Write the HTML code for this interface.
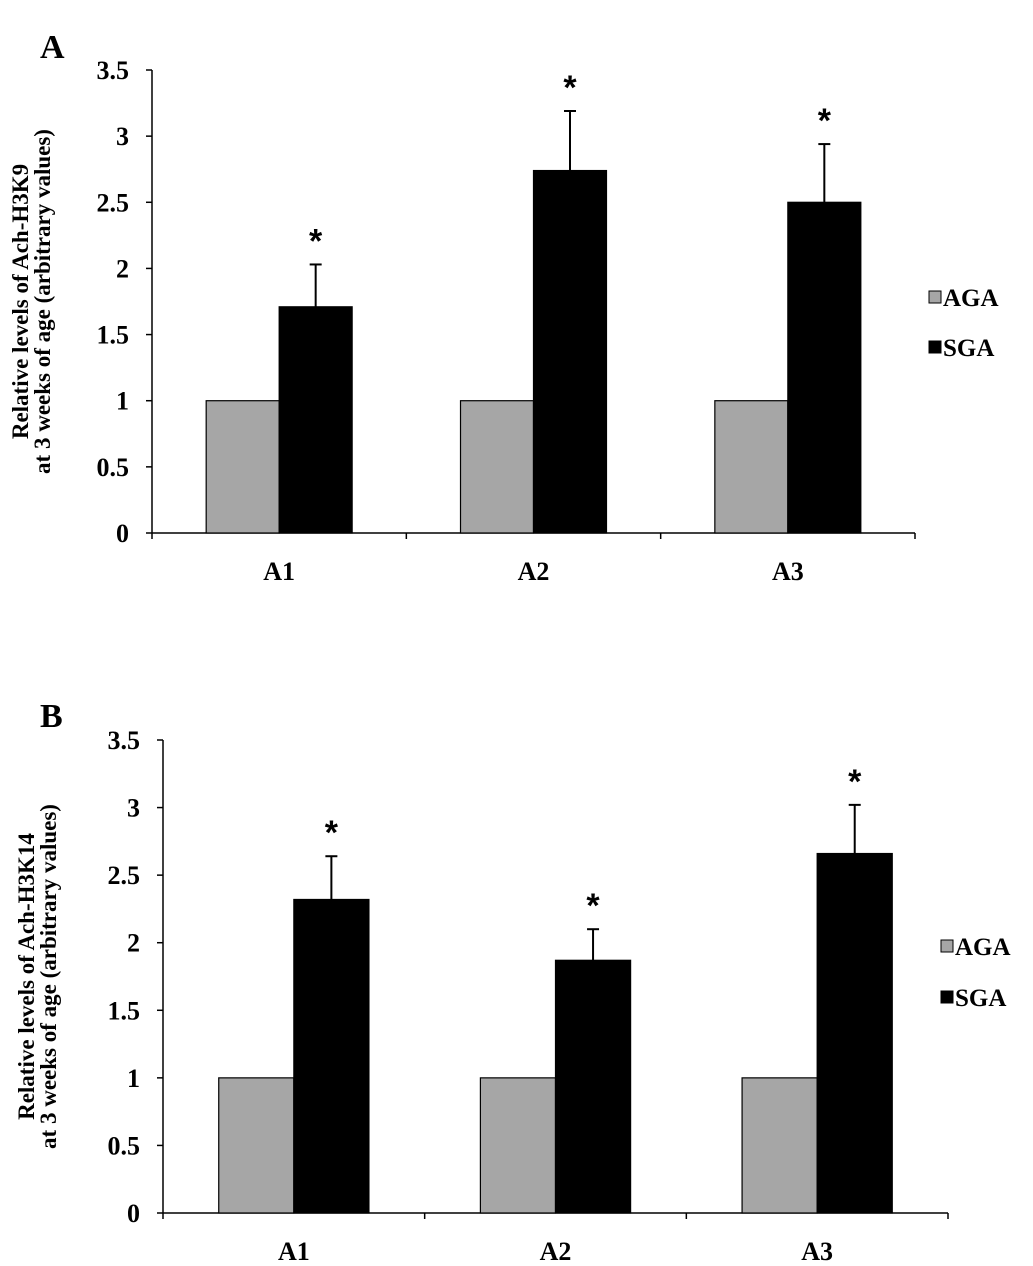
<!DOCTYPE html>
<html><head><meta charset="utf-8"><style>
body{margin:0;background:#fff}
svg{display:block;font-family:"Liberation Serif",serif;font-weight:bold}
</style></head><body>
<svg id="s" width="1033" height="1266" viewBox="0 0 1033 1266"></svg>
<script>
const categories=["A1","A2","A3"];
const agaA=[1,1,1];
const sgaA=[1.71,2.74,2.50];
const errA=[0.32,0.45,0.44];
const agaB=[1,1,1];
const sgaB=[2.32,1.87,2.66];
const errB=[0.32,0.23,0.36];
const yTicks=[0,0.5,1,1.5,2,2.5,3,3.5];
const yTickLabels=["0","0.5","1","1.5","2","2.5","3","3.5"];
const NS="http://www.w3.org/2000/svg";
const svg=document.getElementById('s');
function mk(tag,attrs,parent,text){const e=document.createElementNS(NS,tag);for(const k in attrs)e.setAttribute(k,attrs[k]);if(text!==undefined)e.textContent=text;(parent||svg).appendChild(e);return e;}
function panel(cfg){
 const g=mk('g',{});
 
 
 const y=v=>cfg.y0-(v/3.5)*(cfg.y0-cfg.yTop);
 const cw=(cfg.xEnd-cfg.x0)/categories.length;
 const lab=mk('text',{x:cfg.labX,y:cfg.labY,'font-size':34},g,cfg.id);
 
 
 const ya=mk('line',{x1:cfg.x0,y1:cfg.y0,x2:cfg.x0,y2:y(3.5),stroke:'#000','stroke-width':1.5},g);
 
 
 yTicks.forEach((t,i)=>{
  mk('line',{x1:cfg.x0-6,y1:y(t),x2:cfg.x0,y2:y(t),stroke:'#000','stroke-width':1.5},g);
  const tl=mk('text',{x:cfg.x0-23,y:y(t)+9,'font-size':26,'text-anchor':'end'},g,yTickLabels[i]);
  
  
 });
 const xa=mk('line',{x1:cfg.x0,y1:cfg.y0,x2:cfg.xEnd,y2:cfg.y0,stroke:'#000','stroke-width':1.5},g);
 
 
 for(let i=0;i<=categories.length;i++){const xx=cfg.x0+i*cw;mk('line',{x1:xx,y1:cfg.y0,x2:xx,y2:cfg.y0+6,stroke:'#000','stroke-width':1.5},g);}
 const bw=cw*0.287;
 categories.forEach((c,i)=>{
  const cx=cfg.x0+cw*(i+0.5);
  const b1=mk('rect',{x:cx-bw,y:y(cfg.aga[i]),width:bw,height:cfg.y0-y(cfg.aga[i]),fill:'#a6a6a6',stroke:'#000','stroke-width':1.2},g);
  
  
  const b2=mk('rect',{x:cx,y:y(cfg.sga[i]),width:bw,height:cfg.y0-y(cfg.sga[i]),fill:'#000',stroke:'#000','stroke-width':1.2},g);
  
  
  const ex=cx+bw/2, et=y(cfg.sga[i]+cfg.err[i]);
  const e1=mk('line',{x1:ex,y1:y(cfg.sga[i]),x2:ex,y2:et,stroke:'#000','stroke-width':2},g);
  
  
  mk('line',{x1:ex-6,y1:et,x2:ex+6,y2:et,stroke:'#000','stroke-width':2},g);
  const st=mk('text',{x:ex,y:et-12,'font-size':34,'text-anchor':'middle','font-family':'Liberation Sans, sans-serif','font-weight':'bold'},g,'*');
  
  
  const xl=mk('text',{x:cx,y:cfg.y0+47,'font-size':26,'text-anchor':'middle'},g,c);
  
  
 });
 const my=(cfg.y0+y(3.5))/2;
 const t=mk('text',{transform:`translate(${cfg.tx},${my}) rotate(-90)`,'font-size':23,'text-anchor':'middle'},g);
 
 
 mk('tspan',{x:0,dy:0},t,cfg.title1);
 mk('tspan',{x:0,dy:22},t,'at 3 weeks of age (arbitrary values)');
 [['AGA','#a6a6a6',cfg.lgY1],['SGA','#000',cfg.lgY2]].forEach(([n,f,ly])=>{
  const r=mk('rect',{x:cfg.lgX,y:ly-6,width:12,height:12,fill:f,stroke:'#000','stroke-width':1},g);
  
  
  const lt=mk('text',{x:cfg.lgX+14,y:ly+9,'font-size':25},g,n);
  
  
 });
}
panel({id:'A',x0:152,xEnd:915,y0:533,yTop:70,aga:agaA,sga:sgaA,err:errA,labX:40,labY:58,tx:28,title1:'Relative levels of Ach-H3K9',lgX:929,lgY1:297,lgY2:347});
panel({id:'B',x0:163,xEnd:948,y0:1213,yTop:740,aga:agaB,sga:sgaB,err:errB,labX:40,labY:727,tx:34,title1:'Relative levels of Ach-H3K14',lgX:941,lgY1:946,lgY2:997});
</script>
</body></html>
